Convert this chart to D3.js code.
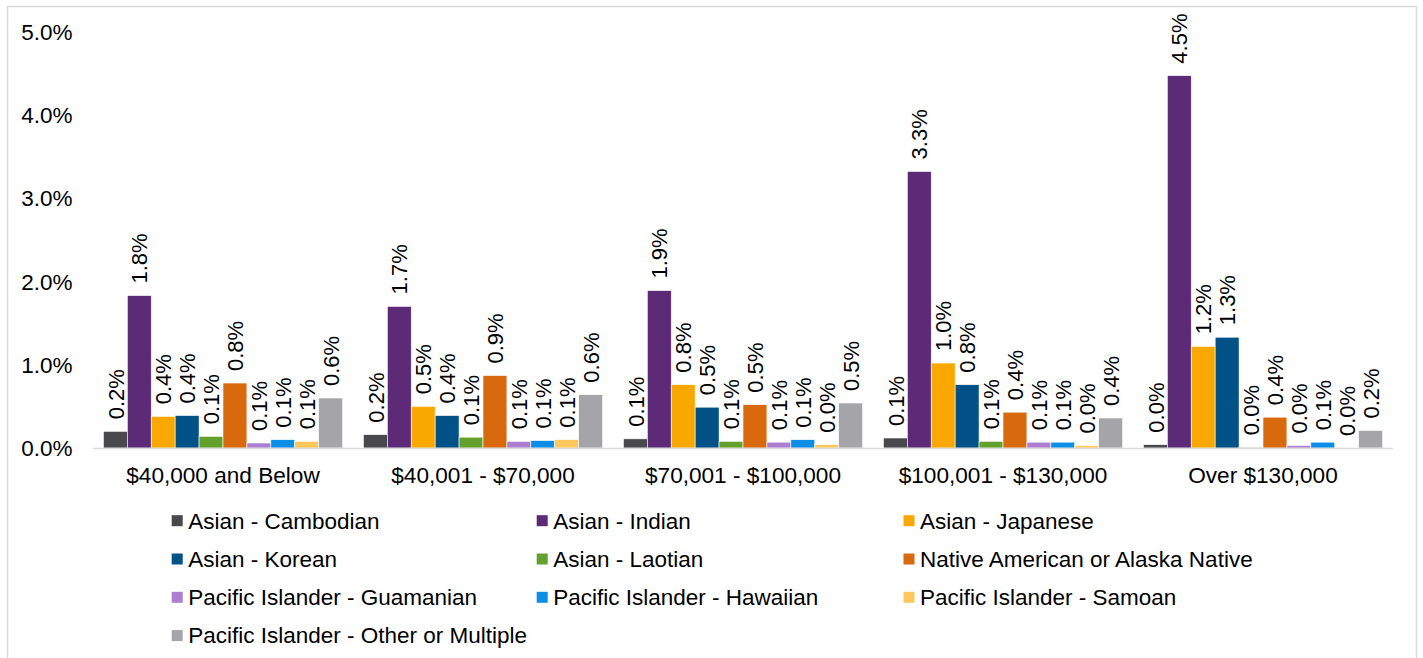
<!DOCTYPE html>
<html>
<head>
<meta charset="utf-8">
<title>Income bracket chart</title>
<script src="https://d3js.org/d3.v7.min.js"></script>
<style>
  body { margin: 0; background: #fff; }
  text { font-family: "Liberation Sans", Arial, sans-serif; fill: #000; }
</style>
</head>
<body>
<div id="chart"></div>
<script>
// categories (income brackets)
var brackets = ["$40,000 and Below", "$40,001 - $70,000", "$70,001 - $100,000", "$100,001 - $130,000", "Over $130,000"];

// series names
var groups = ["Asian - Cambodian", "Asian - Indian", "Asian - Japanese",
  "Asian - Korean", "Asian - Laotian", "Native American or Alaska Native",
  "Pacific Islander - Guamanian", "Pacific Islander - Hawaiian", "Pacific Islander - Samoan",
  "Pacific Islander - Other or Multiple"];

var colors = ["#48484d", "#5c2a77", "#f9a800", "#035287", "#63a02c", "#d9690d",
  "#ab7ed1", "#0c8ee6", "#fdc75c", "#a5a5a9"];

// values in percent, one array per series (one entry per bracket)
var cambodian = [0.20, 0.16, 0.11, 0.12, 0.04];
var indian    = [1.83, 1.70, 1.89, 3.32, 4.47];
var japanese  = [0.38, 0.50, 0.76, 1.02, 1.22];
var korean    = [0.39, 0.39, 0.49, 0.76, 1.33];
var laotian   = [0.14, 0.13, 0.08, 0.08, 0.01];
var nativeAm  = [0.78, 0.87, 0.52, 0.43, 0.37];
var guamanian = [0.06, 0.08, 0.07, 0.07, 0.03];
var hawaiian  = [0.10, 0.09, 0.10, 0.07, 0.07];
var samoan    = [0.08, 0.10, 0.04, 0.03, 0.00];
var otherPI   = [0.60, 0.64, 0.54, 0.36, 0.21];

var yTicks = [0, 1, 2, 3, 4, 5];

var series = [cambodian, indian, japanese, korean, laotian, nativeAm, guamanian, hawaiian, samoan, otherPI];

var W = 1423, H = 658;
var svg = d3.select("#chart").append("svg")
  .attr("width", W).attr("height", H);

// outer frame
svg.append("rect")
  .attr("x", 7.5).attr("y", 6.5)
  .attr("width", 1409).attr("height", 670)
  .attr("fill", "none").attr("stroke", "#d9d9d9").attr("stroke-width", 1.5);

var x0 = d3.scaleBand().domain(brackets).range([93, 1393])
  .paddingInner(0.08).paddingOuter(0.04);
var x1 = d3.scaleBand().domain(groups).range([0, x0.bandwidth()]);
var y = d3.scaleLinear().domain([0, 5]).range([448, 31.5]);

// y axis labels
svg.append("g").selectAll("text")
  .data(yTicks).enter().append("text")
  .attr("x", 72.5).attr("y", function (d) { return y(d); })
  .attr("dy", "0.36em")
  .attr("text-anchor", "end")
  .style("font-size", "22.5px")
  .text(function (d) { return d.toFixed(1) + "%"; });

// bars
var rows = [];
brackets.forEach(function (b, i) {
  groups.forEach(function (g, j) {
    rows.push({ bracket: b, group: g, color: colors[j], value: series[j][i] });
  });
});

var bar = svg.append("g").selectAll("g")
  .data(rows).enter().append("g");

bar.append("rect")
  .attr("x", function (d) { return x0(d.bracket) + x1(d.group); })
  .attr("y", function (d) { return y(d.value); })
  .attr("width", x1.bandwidth())
  .attr("height", function (d) { return y(0) - y(d.value); })
  .attr("fill", function (d) { return d.color; })
  .attr("stroke", "#fff").attr("stroke-width", 0.6);

// value labels, rotated
bar.append("text")
  .attr("transform", function (d) {
    var cx = x0(d.bracket) + x1(d.group) + x1.bandwidth() / 2;
    return "translate(" + cx + "," + (y(d.value) - 12) + ") rotate(-90)";
  })
  .attr("dy", "0.37em")
  .style("font-size", "22px")
  .text(function (d) { return d.value.toFixed(1) + "%"; });

// x axis line
svg.append("line")
  .attr("x1", 93).attr("x2", 1393)
  .attr("y1", y(0) + 0.5).attr("y2", y(0) + 0.5)
  .attr("stroke", "#d9d9d9").attr("stroke-width", 1.5);

svg.append("g").selectAll("text")
  .data(brackets).enter().append("text")
  .attr("x", function (d) { return x0(d) + x0.bandwidth() / 2; })
  .attr("y", 482.5)
  .attr("text-anchor", "middle")
  .style("font-size", "22.6px")
  .text(function (d) { return d; });

// legend, 3 columns, row-major
var colX = [171.7, 536.7, 903.5];
var legend = svg.append("g").selectAll("g")
  .data(groups).enter().append("g")
  .attr("transform", function (d, i) {
    var c = i % 3, r = Math.floor(i / 3);
    return "translate(" + colX[c] + "," + (520.7 + r * 38.3) + ")";
  });

legend.append("rect")
  .attr("x", 0).attr("y", -5.5)
  .attr("width", 11).attr("height", 11)
  .attr("fill", function (d, i) { return colors[i]; });

legend.append("text")
  .attr("x", 16.5).attr("y", 7.8)
  .style("font-size", "22.5px")
  .text(function (d) { return d; });
</script>
</body>
</html>
